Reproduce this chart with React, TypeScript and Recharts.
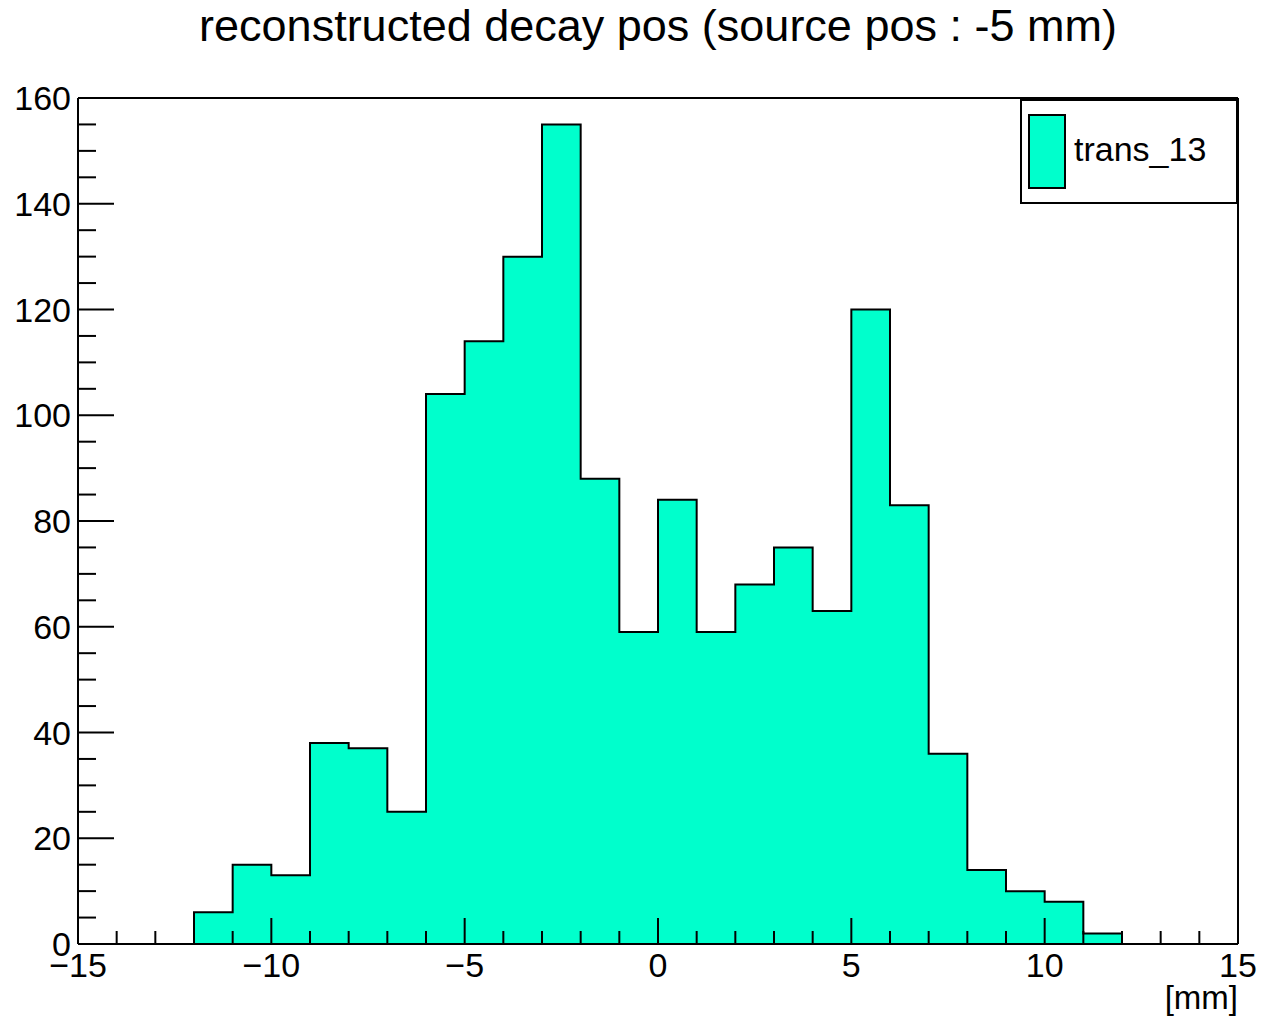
import React from 'react';
import { ComposedChart, Area, XAxis, YAxis, Legend } from 'recharts';

// histogram: bin lower edges (mm) and counts per 1 mm bin
const binLow = [-12, -11, -10, -9, -8, -7, -6, -5, -4, -3, -2, -1, 0, 1, 2, 3, 4, 5, 6, 7, 8, 9, 10, 11];
const counts = [6, 15, 13, 38, 37, 25, 104, 114, 130, 155, 88, 59, 84, 59, 68, 75, 63, 120, 83, 36, 14, 10, 8, 2];
const binWidth = 1;

const xMajorTicks = [-15, -10, -5, 0, 5, 10, 15];
const xMajorLabels = ['\u221215', '\u221210', '\u22125', '0', '5', '10', '15'];
const yMajorTicks = [0, 20, 40, 60, 80, 100, 120, 140, 160];
const yMajorLabels = ['0', '20', '40', '60', '80', '100', '120', '140', '160'];

const title = 'reconstructed decay pos (source pos : -5 mm)';
const xUnit = '[mm]';
const seriesName = 'trans_13';

const FILL = '#00ffcc';
const FONT = '"Liberation Sans", Arial, Helvetica, sans-serif';

// minor ticks every 1 mm on x, every 5 counts on y
const xTicks = Array.from({ length: 31 }, (_, i) => -15 + i);
const yTicks = Array.from({ length: 33 }, (_, i) => i * 5);

// outline points for a step area, closed down to zero on both ends
const lastEdge = binLow[binLow.length - 1] + binWidth;
const stepData = [
  { x: binLow[0], y: 0 },
  ...binLow.map((x, i) => ({ x, y: counts[i] })),
  { x: lastEdge, y: counts[counts.length - 1] },
  { x: lastEdge, y: 0 },
];

const XTick = (props: any) => {
  const { x, y, payload } = props;
  const idx = xMajorTicks.indexOf(payload.value);
  const major = idx >= 0;
  return (
    <g>
      <line x1={x} x2={x} y1={y} y2={y - (major ? 26 : 13)} stroke="#000" strokeWidth={2} />
      {major && (
        <text x={x} y={y + 33} textAnchor="middle" fontSize={34} fontFamily={FONT} fill="#000">
          {xMajorLabels[idx]}
        </text>
      )}
    </g>
  );
};

const YTick = (props: any) => {
  const { x, y, payload } = props;
  const idx = yMajorTicks.indexOf(payload.value);
  const major = idx >= 0;
  return (
    <g>
      <line x1={x} x2={x + (major ? 36 : 18)} y1={y} y2={y} stroke="#000" strokeWidth={2} />
      {major && (
        <text x={x - 7} y={y} dy="0.36em" textAnchor="end" fontSize={34} fontFamily={FONT} fill="#000">
          {yMajorLabels[idx]}
        </text>
      )}
    </g>
  );
};

const LegendBox = () => (
  <div
    style={{
      boxSizing: 'border-box',
      width: 218,
      height: 105,
      border: '2px solid #000',
      background: '#fff',
      position: 'relative',
      fontFamily: FONT,
    }}
  >
    <div
      style={{
        position: 'absolute',
        left: 6,
        top: 13,
        width: 38,
        height: 75,
        boxSizing: 'border-box',
        border: '2px solid #000',
        background: FILL,
      }}
    />
    <div style={{ position: 'absolute', left: 52, top: 28, fontSize: 34, lineHeight: '40px', color: '#000' }}>
      {seriesName}
    </div>
  </div>
);

export default function App() {
  return (
    <div style={{ position: 'absolute', left: 0, top: 0, width: 1268, height: 1019, background: '#fff' }}>
      <ComposedChart
        width={1268}
        height={1019}
        data={stepData}
        margin={{ top: 97, right: 29, bottom: 74, left: 77 }}
      >
        <Area
          type="stepAfter"
          dataKey="y"
          stroke="#000"
          strokeWidth={2}
          fill={FILL}
          fillOpacity={1}
          isAnimationActive={false}
          dot={false}
          activeDot={false}
          name={seriesName}
        />
        <XAxis
          dataKey="x"
          type="number"
          domain={[-15, 15]}
          ticks={xTicks}
          interval={0}
          allowDataOverflow
          height={1}
          tickSize={0}
          tickMargin={0}
          tickLine={false}
          axisLine={{ stroke: '#000', strokeWidth: 2 }}
          tick={<XTick />}
        />
        <YAxis
          type="number"
          domain={[0, 160]}
          ticks={yTicks}
          interval={0}
          allowDataOverflow
          width={1}
          tickSize={0}
          tickMargin={0}
          tickLine={false}
          axisLine={{ stroke: '#000', strokeWidth: 2 }}
          tick={<YTick />}
        />
        <XAxis
          xAxisId="top"
          orientation="top"
          type="number"
          domain={[-15, 15]}
          height={1}
          tick={false}
          tickLine={false}
          axisLine={{ stroke: '#000', strokeWidth: 2 }}
        />
        <YAxis
          yAxisId="right"
          orientation="right"
          type="number"
          domain={[0, 160]}
          width={1}
          tick={false}
          tickLine={false}
          axisLine={{ stroke: '#000', strokeWidth: 2 }}
        />
        <Legend
          layout="horizontal"
          verticalAlign="middle"
          align="center"
          content={<LegendBox />}
          wrapperStyle={{ position: 'absolute', left: 1020, top: 99, width: 218, height: 105 }}
        />
      </ComposedChart>
      <div
        style={{
          position: 'absolute',
          left: 78,
          width: 1160,
          top: 0,
          textAlign: 'center',
          fontFamily: FONT,
          fontSize: 45,
          lineHeight: '52px',
          color: '#000',
        }}
      >
        {title}
      </div>
      <div
        style={{
          position: 'absolute',
          right: 30,
          top: 979,
          fontFamily: FONT,
          fontSize: 33,
          lineHeight: '38px',
          color: '#000',
        }}
      >
        {xUnit}
      </div>
    </div>
  );
}
